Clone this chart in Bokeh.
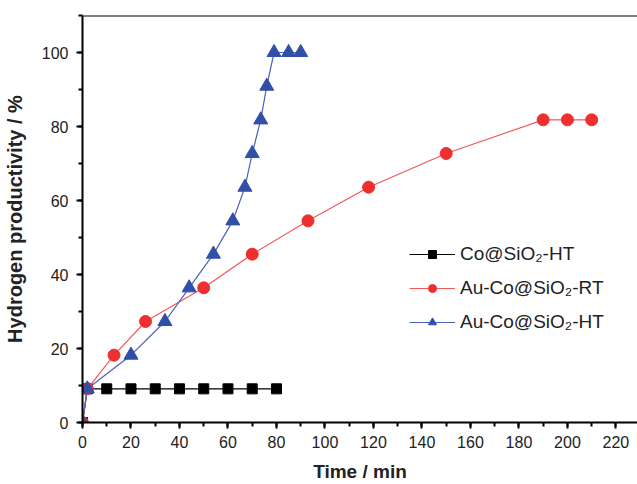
from bokeh.plotting import figure
from bokeh.models import Range1d, Span, Legend, LegendItem, FixedTicker
from bokeh.embed import file_html
from bokeh.resources import INLINE

# Data
co_ht_x = [0, 2, 10, 20, 30, 40, 50, 60, 70, 80]
co_ht_y = [0, 9.1, 9.1, 9.1, 9.1, 9.1, 9.1, 9.1, 9.1, 9.1]

auco_rt_x = [0, 2, 13, 26, 50, 70, 93, 118, 150, 190, 200, 210]
auco_rt_y = [0, 9.1, 18.2, 27.3, 36.4, 45.5, 54.5, 63.6, 72.7, 81.8, 81.8, 81.8]

auco_ht_x = [0, 2, 20, 34, 44, 54, 62, 67, 70, 73.5, 76, 79, 85, 90]
auco_ht_y = [0, 9.1, 18.2, 27.3, 36.4, 45.5, 54.5, 63.6, 72.7, 81.8, 90.9, 100, 100, 100]

x_ticks = list(range(0, 221, 20))
x_minor = list(range(0, 231, 10))
y_ticks = list(range(0, 101, 20))
y_minor = list(range(0, 111, 10))

FONT = "Liberation Sans"

p = figure(width=637, height=484, output_backend="svg", toolbar_location=None,
           x_range=Range1d(0, 228.9), y_range=Range1d(0, 110),
           min_border_left=82, min_border_right=0, min_border_top=15,
           min_border_bottom=62)

p.outline_line_color = None
p.grid.visible = False
p.background_fill_color = "white"
p.border_fill_color = "white"

# top frame line
p.add_layout(Span(location=110, dimension="width", line_color="black", line_width=2))

for ax, ticks, minor in ((p.xaxis[0], x_ticks, x_minor), (p.yaxis[0], y_ticks, y_minor)):
    ax.ticker = FixedTicker(ticks=ticks, minor_ticks=minor)
    ax.axis_line_width = 2
    ax.axis_line_color = "black"
    ax.major_tick_line_width = 2
    ax.minor_tick_line_width = 2
    ax.major_tick_line_color = "black"
    ax.minor_tick_line_color = "black"
    ax.major_tick_in = 0
    ax.major_tick_out = 6
    ax.minor_tick_in = 0
    ax.minor_tick_out = 4
    ax.major_label_text_font = FONT
    ax.major_label_text_font_size = "16px"
    ax.major_label_text_color = "#222222"
    ax.axis_label_text_font = FONT
    ax.axis_label_text_font_style = "bold"
    ax.axis_label_text_color = "#222222"

p.xaxis.axis_label = "Time / min"
p.xaxis.axis_label_text_font_size = "19px"
p.xaxis.major_label_standoff = 7
p.xaxis.axis_label_standoff = 10

p.yaxis.axis_label = "Hydrogen productivity / %"
p.yaxis.axis_label_text_font_size = "20px"
p.yaxis.major_label_standoff = 8
p.yaxis.axis_label_standoff = 13

l1 = p.line(co_ht_x, co_ht_y, line_color="black", line_width=1.2)
s1 = p.scatter(co_ht_x, co_ht_y, marker="square", size=10, fill_color="black", line_color="black")

l2 = p.line(auco_rt_x, auco_rt_y, line_color="#F25A5A", line_width=1.2)
s2 = p.scatter(auco_rt_x, auco_rt_y, marker="circle", size=12, fill_color="#EE2F2F", line_color="#EE2F2F")

l3 = p.line(auco_ht_x, auco_ht_y, line_color="#4A62B8", line_width=1.2)
s3 = p.scatter(auco_ht_x, auco_ht_y, marker="triangle", size=14, fill_color="#3050A8", line_color="#3050A8")

legend = Legend(items=[
    LegendItem(label="Co@SiO\u2082-HT", renderers=[l1, s1]),
    LegendItem(label="Au-Co@SiO\u2082-RT", renderers=[l2, s2]),
    LegendItem(label="Au-Co@SiO\u2082-HT", renderers=[l3, s3]),
], location=(327, 89))
legend.border_line_color = None
legend.background_fill_alpha = 0
legend.padding = 0
legend.margin = 0
legend.glyph_width = 46
legend.glyph_height = 20
legend.label_height = 20
legend.spacing = 12
legend.label_standoff = 5
legend.label_text_font = FONT
legend.label_text_font_size = "19px"
legend.label_text_color = "#222222"
p.add_layout(legend)

open("out.html", "w").write(file_html(p, INLINE))
